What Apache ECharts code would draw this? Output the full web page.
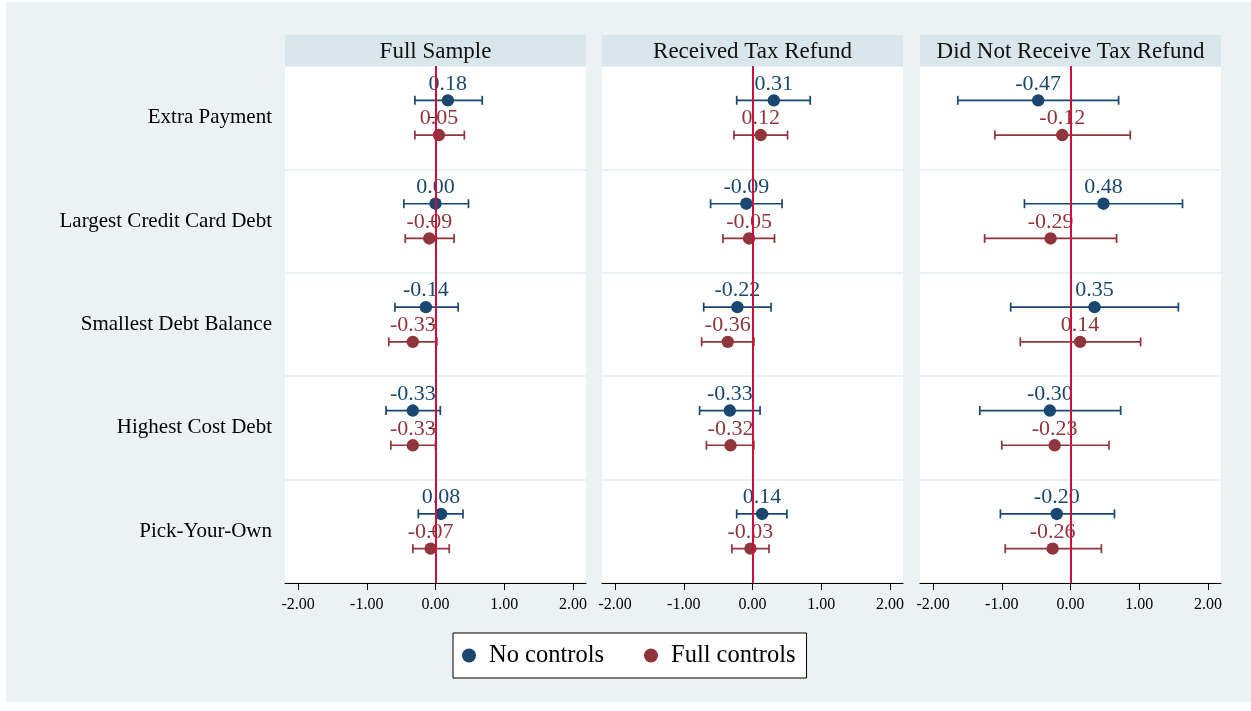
<!DOCTYPE html>
<html>
<head>
<meta charset="utf-8">
<script src="https://cdn.jsdelivr.net/npm/echarts@6/dist/echarts.min.js"></script>
<style>
  html, body { margin: 0; padding: 0; background: #fff; }
  #chart { width: 1251px; height: 711px; }
</style>
</head>
<body>
<div id="chart"></div>
<script>
// Outcome rows (top to bottom) and panel headings
const categories = ['Extra Payment', 'Largest Credit Card Debt', 'Smallest Debt Balance', 'Highest Cost Debt', 'Pick-Your-Own'];
const panelTitles = ['Full Sample', 'Received Tax Refund', 'Did Not Receive Tax Refund'];
const legendNames = ['No controls', 'Full controls'];
const xTicks = [-2, -1, 0, 1, 2];

// Full sample: point estimates and 95% CI bounds
const fullNoCoef  = [0.18, 0.00, -0.14, -0.33, 0.08];
const fullNoLo    = [-0.30, -0.46, -0.59, -0.72, -0.25];
const fullNoHi    = [0.68, 0.48, 0.33, 0.07, 0.40];
const fullCtlCoef = [0.05, -0.09, -0.33, -0.33, -0.07];
const fullCtlLo   = [-0.30, -0.44, -0.68, -0.65, -0.33];
const fullCtlHi   = [0.42, 0.27, 0.02, 0.00, 0.20];

// Received a tax refund
const recNoCoef  = [0.31, -0.09, -0.22, -0.33, 0.14];
const recNoLo    = [-0.23, -0.61, -0.71, -0.77, -0.23];
const recNoHi    = [0.84, 0.43, 0.27, 0.11, 0.50];
const recCtlCoef = [0.12, -0.05, -0.36, -0.32, -0.03];
const recCtlLo   = [-0.27, -0.43, -0.74, -0.67, -0.30];
const recCtlHi   = [0.51, 0.32, 0.02, 0.02, 0.24];

// Did not receive a tax refund
const notNoCoef  = [-0.47, 0.48, 0.35, -0.30, -0.20];
const notNoLo    = [-1.64, -0.67, -0.87, -1.32, -1.02];
const notNoHi    = [0.70, 1.63, 1.57, 0.73, 0.64];
const notCtlCoef = [-0.12, -0.29, 0.14, -0.23, -0.26];
const notCtlLo   = [-1.10, -1.25, -0.73, -1.00, -0.95];
const notCtlHi   = [0.87, 0.67, 1.02, 0.56, 0.45];

const panels = [
  { no: [fullNoCoef, fullNoLo, fullNoHi], ctl: [fullCtlCoef, fullCtlLo, fullCtlHi] },
  { no: [recNoCoef, recNoLo, recNoHi],    ctl: [recCtlCoef, recCtlLo, recCtlHi] },
  { no: [notNoCoef, notNoLo, notNoHi],    ctl: [notCtlCoef, notCtlLo, notCtlHi] }
];

const FONT = '"Liberation Serif", "Times New Roman", serif';
const NAVY = '#1a476f';
const MAROON = '#90353b';
const ZERO = '#cc0f3d';
const BG = '#eaf2f3';
const STRIP = '#d9e6eb';

const gridLefts = [285, 602, 920];
const gridWidth = 301;
const gridTop = 66;
const gridHeight = 517;
const stripTop = 35;

function rows(arrs) {
  return arrs[0].map((c, i) => [c, arrs[1][i], arrs[2][i], i]);
}

// Estimate marker with capped confidence interval, shifted within the row band
function barRender(offset, color) {
  return function (params, api) {
    const row = api.value(3);
    const mid = api.coord([api.value(0), row]);
    const band = api.size([0, 1])[1];
    const y = mid[1] + offset * band;
    const xl = api.coord([api.value(1), row])[0];
    const xh = api.coord([api.value(2), row])[0];
    const ls = { stroke: color, lineWidth: 1.7 };
    return {
      type: 'group',
      children: [
        { type: 'line', shape: { x1: xl, y1: y, x2: xh, y2: y }, style: ls },
        { type: 'line', shape: { x1: xl, y1: y - 4.5, x2: xl, y2: y + 4.5 }, style: ls },
        { type: 'line', shape: { x1: xh, y1: y - 4.5, x2: xh, y2: y + 4.5 }, style: ls },
        { type: 'circle', shape: { cx: mid[0], cy: y, r: 6.2 }, style: { fill: color } }
      ]
    };
  };
}

// Coefficient value printed above its marker
function labelRender(offset, color) {
  return function (params, api) {
    const row = api.value(3);
    const mid = api.coord([api.value(0), row]);
    const band = api.size([0, 1])[1];
    const y = mid[1] + offset * band - 16.5;
    return {
      type: 'text',
      x: mid[0],
      y: y,
      style: {
        text: api.value(0).toFixed(2),
        fill: color,
        font: '22px ' + FONT,
        align: 'center',
        verticalAlign: 'middle',
        textAlign: 'center',
        textVerticalAlign: 'middle'
      }
    };
  };
}

const grids = [], xAxes = [], yAxes = [], series = [], graphics = [];

graphics.push({
  type: 'rect', z: -10, silent: true,
  shape: { x: 6, y: 2, width: 1245, height: 700 },
  style: { fill: BG }
});

panels.forEach((p, i) => {
  grids.push({
    left: gridLefts[i], top: gridTop, width: gridWidth, height: gridHeight,
    show: true, backgroundColor: '#fff', borderWidth: 0, containLabel: false
  });
  xAxes.push({
    type: 'value', gridIndex: i, min: -2.19, max: 2.19,
    axisLine: { show: true, lineStyle: { color: '#000', width: 1 } },
    axisTick: { show: true, length: 7, customValues: xTicks, lineStyle: { color: '#000' } },
    axisLabel: {
      show: true, customValues: xTicks, formatter: v => Number(v).toFixed(2),
      fontFamily: FONT, fontSize: 16, color: '#000', margin: 14
    },
    splitLine: { show: false }
  });
  yAxes.push({
    type: 'category', gridIndex: i, data: categories, inverse: true, boundaryGap: true,
    axisLine: { show: i === 0, lineStyle: { color: '#333', width: 1 } },
    axisTick: { show: i === 0, alignWithLabel: true, length: 7, lineStyle: { color: '#333' } },
    axisLabel: { show: i === 0, interval: 0, fontFamily: FONT, fontSize: 21, color: '#000', margin: 13, lineHeight: 26, verticalAlign: 'middle' },
    splitLine: { show: true, interval: 0, lineStyle: { color: BG, width: 2 } }
  });

  graphics.push({
    type: 'rect', z: 1, silent: true,
    shape: { x: gridLefts[i], y: stripTop, width: gridWidth, height: gridTop - stripTop },
    style: { fill: STRIP }
  });
  graphics.push({
    type: 'text', z: 2, silent: true,
    x: gridLefts[i] + gridWidth / 2, y: (stripTop + gridTop) / 2 + 1,
    style: { text: panelTitles[i], font: '23px ' + FONT, fill: '#111', align: 'center', verticalAlign: 'middle' }
  });

  const common = { type: 'custom', xAxisIndex: i, yAxisIndex: i, encode: { x: [0, 1, 2], y: 3 }, silent: true };
  series.push(Object.assign({}, common, {
    name: legendNames[0], z: 2, itemStyle: { color: NAVY },
    data: rows(p.no), renderItem: labelRender(-0.168, NAVY)
  }));
  series.push(Object.assign({}, common, {
    name: legendNames[1], z: 2, itemStyle: { color: MAROON },
    data: rows(p.ctl), renderItem: labelRender(0.168, MAROON)
  }));
  series.push({
    type: 'line', xAxisIndex: i, yAxisIndex: i, data: [], z: 3, silent: true,
    markLine: {
      silent: true, symbol: 'none', label: { show: false },
      lineStyle: { color: ZERO, width: 2, type: 'solid' },
      data: [{ xAxis: 0 }]
    }
  });
  series.push(Object.assign({}, common, {
    name: legendNames[0], z: 4, itemStyle: { color: NAVY },
    data: rows(p.no), renderItem: barRender(-0.168, NAVY)
  }));
  series.push(Object.assign({}, common, {
    name: legendNames[1], z: 4, itemStyle: { color: MAROON },
    data: rows(p.ctl), renderItem: barRender(0.168, MAROON)
  }));
});

const chart = echarts.init(document.getElementById('chart'), null, { renderer: 'canvas' });
chart.setOption({
  animation: false,
  backgroundColor: '#fff',
  textStyle: { fontFamily: FONT },
  grid: grids,
  xAxis: xAxes,
  yAxis: yAxes,
  graphic: graphics,
  legend: {
    data: legendNames, left: 453, top: 633, orient: 'horizontal',
    icon: 'circle', itemWidth: 14, itemHeight: 14, itemGap: 40,
    selectedMode: false,
    backgroundColor: '#fff', borderColor: '#000', borderWidth: 1, borderRadius: 0,
    padding: [10, 11, 10, 9],
    textStyle: { fontFamily: FONT, fontSize: 24.5, color: '#000', padding: [0, 0, 0, 8] }
  },
  series: series
});
</script>
</body>
</html>
